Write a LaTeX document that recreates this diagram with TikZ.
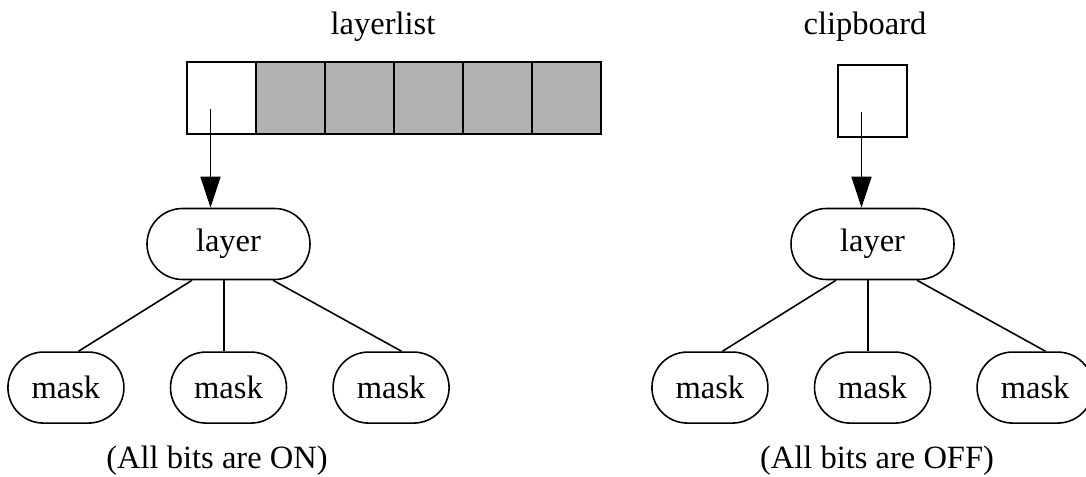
\documentclass[tikz,border=0pt]{standalone}
\usepackage{fontspec}
\setmainfont{Liberation Serif}
\usetikzlibrary{arrows.meta,shapes.misc,positioning}

\begin{document}
\begin{tikzpicture}[
  node distance = 1.42cm and 0.9cm,
  > = {Triangle[length=0.62cm, width=0.4cm]},
  every node/.style = {font=\fontsize{18.5}{21}\selectfont},
  slot/.style = {rectangle, draw, line width=0.9pt, outer sep=0pt,
                 minimum width=1.38cm, minimum height=1.44cm},
  used/.style = {slot, fill=black!30},
  blob/.style = {rounded rectangle, draw, line width=0.9pt,
                 minimum height=1.42cm, inner sep=0pt}
]
\useasboundingbox (0,0) rectangle (21.72,-9.54);

% ───────── layerlist ─────────
\node[slot] (c0) at (4.43,-1.96) {};
\node[used, right=0pt of c0] (c1) {};
\node[used, right=0pt of c1] (c2) {};
\node[used, right=0pt of c2] (c3) {};
\node[used, right=0pt of c3] (c4) {};
\node[used, right=0pt of c4] (c5) {};
\node (llist) at (7.66,-0.54) {layerlist};

% ───────── clipboard ─────────
\node[slot] (cb) at (17.45,-2.02) {};
\node (clip) at (17.3,-0.54) {clipboard};

% ───────── layers ─────────
\node[blob, minimum width=3.26cm] (layA) at (4.57,-4.88) {layer};
\node[blob, minimum width=3.26cm] (layB) at (17.45,-4.88) {layer};

% ───────── masks ─────────
\node[blob, minimum width=2.32cm, below=of layA] (mA2) {mask};
\node[blob, minimum width=2.32cm, left=of mA2]   (mA1) {mask};
\node[blob, minimum width=2.32cm, right=of mA2]  (mA3) {mask};

\node[blob, minimum width=2.32cm, below=of layB] (mB2) {mask};
\node[blob, minimum width=2.32cm, left=of mB2]   (mB1) {mask};
\node[blob, minimum width=2.32cm, right=of mB2]  (mB3) {mask};

% ───────── notes ─────────
\node (onA)  at (4.34,-9.22)  {(All bits are ON)};
\node (offB) at (17.54,-9.22) {(All bits are OFF)};

% ───────── arrows ──────────
\coordinate (pA) at ([xshift=-0.22cm, yshift=-0.22cm]c0.center);
\coordinate (pB) at ([xshift=-0.22cm, yshift=-0.22cm]cb.center);
\draw[->, line width=0.9pt] (pA) -- (pA |- layA.north);
\draw[->, line width=0.9pt] (pB) -- (pB |- layB.north);

\draw[line width=0.9pt] ([xshift=-0.73cm]layA.south) -- ([xshift=0.25cm]mA1.north);
\draw[line width=0.9pt] ([xshift=-0.09cm]layA.south) -- ([xshift=-0.09cm]mA2.north);
\draw[line width=0.9pt] ([xshift=0.89cm]layA.south)  -- ([xshift=0.21cm]mA3.north);

\draw[line width=0.9pt] ([xshift=-0.73cm]layB.south) -- ([xshift=0.25cm]mB1.north);
\draw[line width=0.9pt] ([xshift=-0.09cm]layB.south) -- ([xshift=-0.09cm]mB2.north);
\draw[line width=0.9pt] ([xshift=0.89cm]layB.south)  -- ([xshift=0.21cm]mB3.north);

\end{tikzpicture}
\end{document}
